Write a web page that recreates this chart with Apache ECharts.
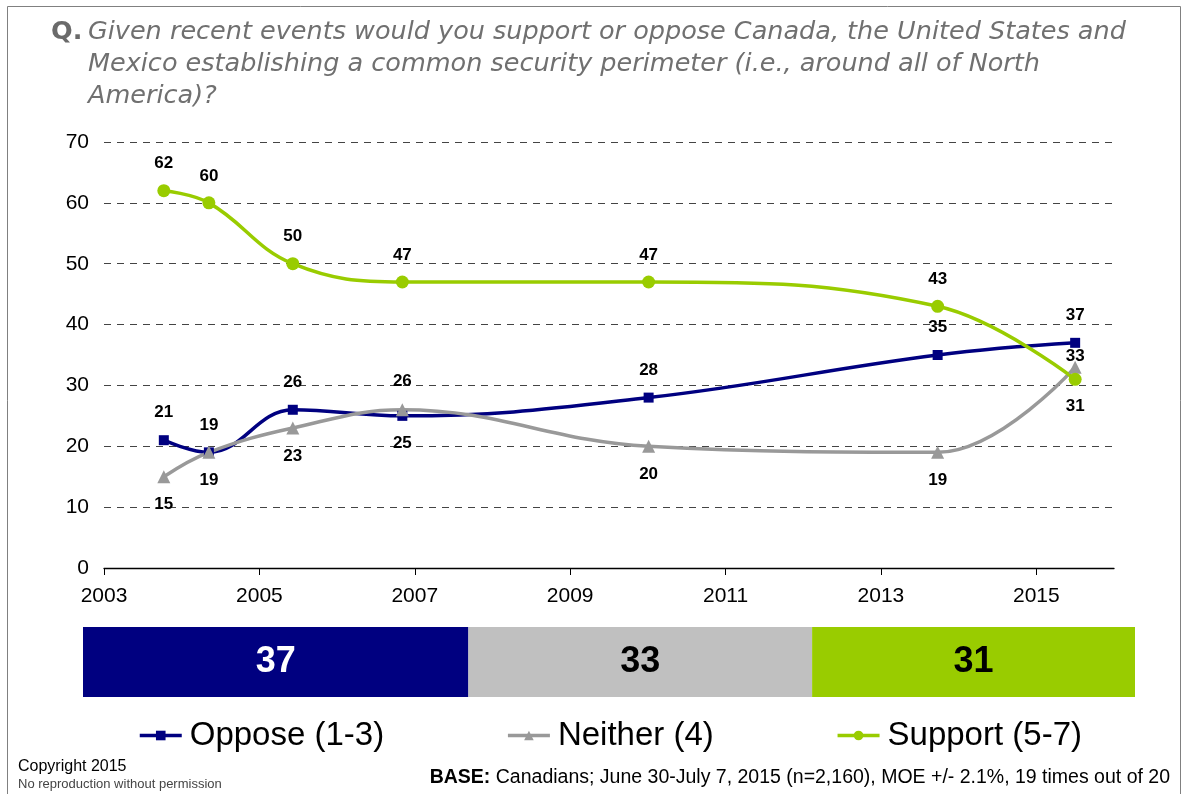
<!DOCTYPE html>
<html>
<head>
<meta charset="utf-8">
<style>
  html, body { margin: 0; padding: 0; background: #fff; }
  #chart { width: 1185px; height: 794px; }
</style>
<script src="https://cdn.jsdelivr.net/npm/echarts@6/dist/echarts.min.js"></script>
</head>
<body>
<div id="chart"></div>
<script>
// Survey waves (decimal year of fieldwork) and results, in %
const waveYears = [2003.77, 2004.35, 2005.43, 2006.84, 2010.01, 2013.73, 2015.50];
const oppose  = [21, 19, 26, 25, 28, 35, 37];
const neither = [15, 19, 23, 26, 20, 19, 33];
const support = [62, 60, 50, 47, 47, 43, 31];
const yearTicks = [2003, 2005, 2007, 2009, 2011, 2013, 2015];
const seriesNames = ['Oppose (1-3)', 'Neither (4)', 'Support (5-7)'];

const NAVY = '#000080', GREY = '#999999', GREEN = '#99CC00';
const SANS = '"Liberation Sans", Arial, sans-serif';
const TITLE_FONT = 'italic 25.5px "DejaVu Sans", sans-serif';

// Which side of the marker each value label sits on
const oppSide = ['top', 'top', 'top', 'bottom', 'top', 'top', 'top'];
const neiSide = ['bottom', 'bottom', 'bottom', 'top', 'bottom', 'bottom', 'tight'];
const supSide = ['top', 'top', 'top', 'top', 'top', 'top', 'bottom'];

function points(values, sides, dist) {
  return values.map((v, i) => {
    const side = sides[i];
    const label = side === 'tight'
      ? { position: 'top', distance: -4 }
      : { position: side, distance: dist };
    return { value: [waveYears[i], v], label };
  });
}

const valueLabel = {
  show: true,
  fontFamily: SANS,
  fontSize: 17,
  fontWeight: 'bold',
  color: '#000'
};

function lineSeries(name, color, symbol, size, values, sides, dist) {
  return {
    name, type: 'line', xAxisIndex: 0, yAxisIndex: 0,
    smooth: 0.4,
    symbol, symbolSize: size,
    lineStyle: { color, width: 3.5 },
    itemStyle: { color },
    label: valueLabel,
    data: points(values, sides, dist),
    z: 3
  };
}

const last = a => a[a.length - 1];
const current = [last(oppose), last(neither), last(support)];
const barColors = [NAVY, '#C0C0C0', GREEN];
const barText = ['#fff', '#000', '#000'];

const chart = echarts.init(document.getElementById('chart'), null, { renderer: 'canvas' });

chart.setOption({
  backgroundColor: '#fff',
  animation: false,
  textStyle: { fontFamily: SANS },
  graphic: [
    { type: 'rect', shape: { x: 7.5, y: 6.5, width: 1173, height: 800 },
      style: { fill: 'none', stroke: '#808080', lineWidth: 1 }, silent: true },
    { type: 'text', x: 51, y: 19,
      style: { text: 'Q.', font: 'bold 25.5px "DejaVu Sans", sans-serif', fill: '#6a6a6a' } },
    { type: 'text', x: 88, y: 19,
      style: { text: 'Given recent events would you support or oppose Canada, the United States and',
               font: TITLE_FONT, fill: '#707070' } },
    { type: 'text', x: 88, y: 51,
      style: { text: 'Mexico establishing a common security perimeter (i.e., around all of North',
               font: TITLE_FONT, fill: '#707070' } },
    { type: 'text', x: 88, y: 83,
      style: { text: 'America)?', font: TITLE_FONT, fill: '#707070' } },
    { type: 'text', x: 18, y: 759,
      style: { text: 'Copyright 2015', font: '16px ' + SANS, fill: '#000' } },
    { type: 'text', x: 18, y: 778,
      style: { text: 'No reproduction without permission', font: '13px ' + SANS, fill: '#444' } },
    { type: 'text', x: 1170, y: 768,
      style: { text: '{b|BASE:} Canadians; June 30-July 7, 2015 (n=2,160), MOE +/- 2.1%, 19 times out of 20',
               font: '19.5px ' + SANS, fill: '#000', align: 'right',
               rich: { b: { fontWeight: 'bold', fontSize: 19.5, fontFamily: SANS } } } }
  ],
  legend: {
    data: seriesNames,
    left: 133,
    top: 714,
    itemWidth: 42,
    itemHeight: 12,
    itemGap: 122,
    lineStyle: { width: 3.5 },
    textStyle: { fontSize: 33, color: '#000', fontFamily: SANS, padding: [0, 0, 0, 3] }
  },
  grid: [
    { left: 104, right: 71, top: 142, height: 426 },
    { left: 83, right: 50, top: 627, height: 70 }
  ],
  xAxis: [
    {
      gridIndex: 0, type: 'value', min: 2003, max: 2016,
      axisLine: { show: true, lineStyle: { color: '#000', width: 1.3 } },
      axisTick: { show: true, length: 7, lineStyle: { color: '#000' }, customValues: yearTicks },
      axisLabel: { fontSize: 21, color: '#000', margin: 18, customValues: yearTicks,
                   formatter: v => String(v) },
      splitLine: { show: false }
    },
    { gridIndex: 1, type: 'value', min: 0, max: current.reduce((a, b) => a + b, 0), show: false }
  ],
  yAxis: [
    {
      gridIndex: 0, type: 'value', min: 0, max: 70, interval: 10,
      axisLine: { show: false }, axisTick: { show: false },
      axisLabel: { fontSize: 21, color: '#000', margin: 15 },
      splitLine: { show: true, lineStyle: { color: '#444', type: [7, 6], width: 1.2 } }
    },
    { gridIndex: 1, type: 'category', data: ['2015'], show: false }
  ],
  series: [
    lineSeries(seriesNames[0], NAVY, 'rect', 10, oppose, oppSide, 14),
    lineSeries(seriesNames[1], GREY, 'triangle', 13, neither, neiSide, 13),
    lineSeries(seriesNames[2], GREEN, 'circle', 13, support, supSide, 12),
    ...current.map((v, i) => ({
      name: seriesNames[i] + ' 2015',
      type: 'bar', xAxisIndex: 1, yAxisIndex: 1, stack: 'now',
      barWidth: 70,
      itemStyle: { color: barColors[i] },
      label: { show: true, position: 'inside', fontSize: 36, fontWeight: 'bold',
               color: barText[i], fontFamily: SANS },
      data: [v]
    }))
  ]
});
</script>
</body>
</html>
